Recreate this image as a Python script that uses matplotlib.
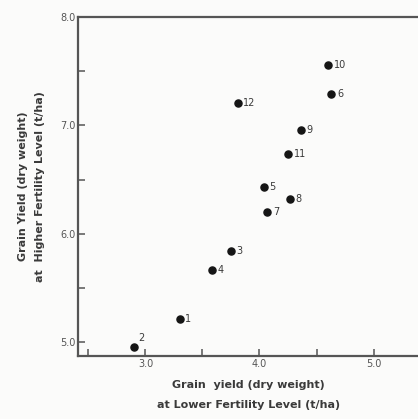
import matplotlib.pyplot as plt

# variety numbers and yields (t/ha)
varieties = ['1', '2', '3', '4', '5', '6', '7', '8', '9', '10', '11', '12']
low_fert = [3.30, 2.90, 3.75, 3.58, 4.04, 4.63, 4.07, 4.27, 4.36, 4.60, 4.25, 3.81]
high_fert = [5.21, 4.95, 5.84, 5.67, 6.43, 7.29, 6.20, 6.32, 6.96, 7.56, 6.74, 7.21]

x_major = [3.0, 4.0, 5.0]
x_minor = [2.5, 3.5, 4.5]
y_major = [5.0, 6.0, 7.0, 8.0]
y_minor = [5.5, 6.5, 7.5]

ink = '#3a3a3a'

fig = plt.figure(figsize=(4.18, 4.19), dpi=100)
fig.patch.set_facecolor('#fbfbfa')
ax = fig.add_axes([0.187, 0.150, 0.813, 0.809])
ax.set_facecolor('#fbfbfa')

ax.scatter(low_fert, high_fert, s=26, color='#151515', zorder=3)
for name, a, b in zip(varieties, low_fert, high_fert):
    if name == '2':
        ax.annotate(name, xy=(a, b), xytext=(3, 3), textcoords='offset points',
                    fontsize=7, color=ink, va='bottom')
    else:
        ax.annotate(name, xy=(a, b), xytext=(4, 0), textcoords='offset points',
                    fontsize=7, color=ink, va='center')

ax.set_xlim(2.41, 5.39)
ax.set_ylim(4.87, 8.0)
ax.set_xticks(x_major)
ax.set_xticks(x_minor, minor=True)
ax.set_yticks(y_major)
ax.set_yticks(y_minor, minor=True)
ax.set_xticklabels(['%.1f' % v for v in x_major], fontsize=7, color='#555555')
ax.set_yticklabels(['%.1f' % v for v in y_major], fontsize=7, color='#555555')
ax.tick_params(which='both', direction='in', length=5, width=1.1, color='#555555', pad=2)

ax.spines['right'].set_visible(False)
for side in ['left', 'top', 'bottom']:
    ax.spines[side].set_color('#555555')
    ax.spines[side].set_linewidth(1.6)

ax.set_xlabel('Grain  yield (dry weight)\nat Lower Fertility Level (t/ha)',
              fontsize=8, fontweight='bold', color=ink, linespacing=2.2, labelpad=8)
ax.set_ylabel('Grain Yield (dry weight)\nat  Higher Fertility Level (t/ha)',
              fontsize=8, fontweight='bold', color=ink, linespacing=1.9, labelpad=11)

fig.savefig('out.png', dpi=100, facecolor=fig.get_facecolor())
